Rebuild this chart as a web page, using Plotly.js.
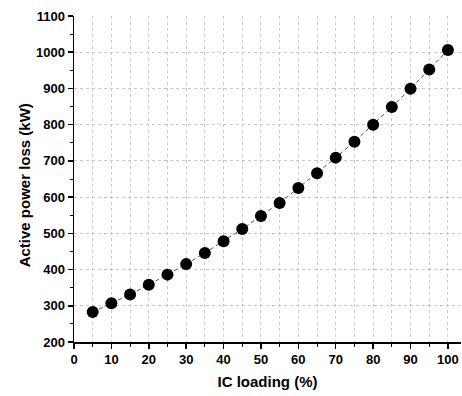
<!DOCTYPE html>
<html>
<head>
<meta charset="utf-8">
<script src="https://cdn.plot.ly/plotly-3.0.1.min.js"></script>
<style>html,body{margin:0;padding:0;background:#fff;}#chart{width:462px;height:396px;}</style>
</head>
<body>
<div id="chart"></div>
<script>
var icLoading = [5,10,15,20,25,30,35,40,45,50,55,60,65,70,75,80,85,90,95,100];
var powerLoss = [283,307,331,358,386,415,446,478,512,548,584,625,666,709,753,800,849,899,952,1006];
var xTicks = [0,10,20,30,40,50,60,70,80,90,100];
var yTicks = [200,300,400,500,600,700,800,900,1000,1100];
var xTitle = 'IC loading (%)';
var yTitle = 'Active power loss (kW)';

var trace = {
  x: icLoading, y: powerLoss, type: 'scatter', mode: 'lines+markers',
  line: {color: '#555', width: 1, dash: '4px,3px'},
  marker: {color: '#000', size: 12, line: {width: 0}},
  showlegend: false, hoverinfo: 'skip'
};
var fam = 'Liberation Sans, Arial, sans-serif';
var layout = {
  width: 462, height: 396,
  margin: {l: 74, r: 1, t: 16, b: 54},
  paper_bgcolor: '#fff', plot_bgcolor: '#fff',
  font: {family: fam, size: 13, color: '#000'},
  xaxis: {
    range: [0, 103.5], tickvals: xTicks, ticktext: xTicks.map(String),
    ticks: 'outside', ticklen: 5, tickwidth: 1.5, tickcolor: '#000',
    showline: true, linecolor: '#000', linewidth: 1.5,
    showgrid: true, gridcolor: '#c8c8c8', griddash: 'dot', gridwidth: 1,
    zeroline: false,
    tickfont: {family: fam, size: 13, color: '#000', weight: 'bold'},
    minor: {dtick: 5, tick0: 0, ticks: 'outside', ticklen: 3, tickwidth: 1, tickcolor: '#000', showgrid: true, gridcolor: '#c8c8c8', griddash: 'dot', gridwidth: 1},
    title: {text: '<b>' + xTitle + '</b>', font: {family: fam, size: 15, color: '#000'}, standoff: 10}
  },
  yaxis: {
    range: [200, 1100], tickvals: yTicks, ticktext: yTicks.map(String),
    ticks: 'outside', ticklen: 5, tickwidth: 1.5, tickcolor: '#000',
    showline: true, linecolor: '#000', linewidth: 1.5,
    showgrid: true, gridcolor: '#c8c8c8', griddash: 'dot', gridwidth: 1,
    zeroline: false,
    tickfont: {family: fam, size: 13, color: '#000', weight: 'bold'},
    minor: {dtick: 50, tick0: 200, ticks: 'outside', ticklen: 3, tickwidth: 1, tickcolor: '#000', showgrid: false},
    title: {text: ''}
  },
  annotations: [{
    text: '<b>' + yTitle + '</b>', textangle: -90, showarrow: false,
    xref: 'paper', yref: 'paper', x: -0.127, y: 0.48, xanchor: 'center', yanchor: 'middle',
    font: {family: fam, size: 15, color: '#000'}
  }]
};
Plotly.newPlot('chart', [trace], layout, {staticPlot: true, displayModeBar: false});
</script>
</body>
</html>
